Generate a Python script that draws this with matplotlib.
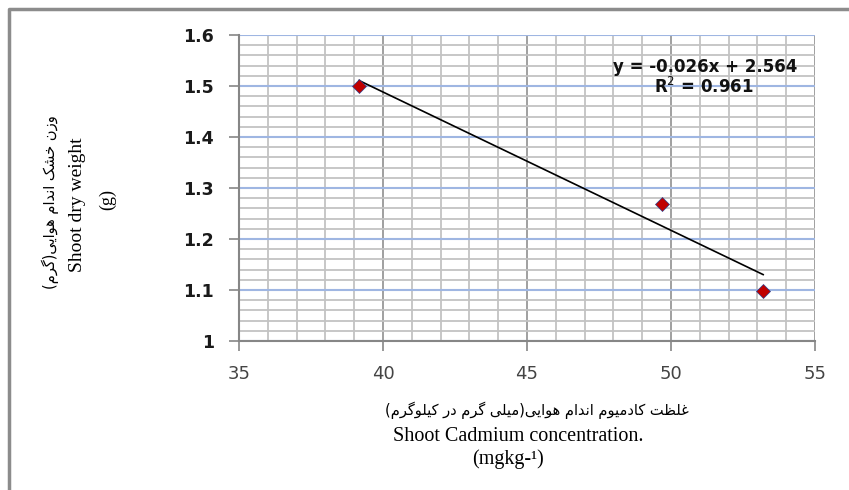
import matplotlib
matplotlib.use("Agg")
import matplotlib.pyplot as plt
import numpy as np
from matplotlib.ticker import MultipleLocator
from matplotlib.lines import Line2D

# Data
cadmium = [39.17, 49.7, 53.2]        # shoot Cd concentration (mg/kg)
dry_weight = [1.50, 1.268, 1.098]    # shoot dry weight (g)
eq_text = "y = -0.026x + 2.564"
r2_text = "R$^2$ = 0.961"
x_ticks = [35, 40, 45, 50, 55]
y_ticks = [1.0, 1.1, 1.2, 1.3, 1.4, 1.5, 1.6]
y_tick_labels = ["1", "1.1", "1.2", "1.3", "1.4", "1.5", "1.6"]

fa_ylabel = "وزن خشک اندام هوایی(گرم)"
fa_xlabel = "غلظت کادمیوم اندام هوایی(میلی گرم در کیلوگرم)"

# Simple Persian shaping (matplotlib has no complex text layout)
FORMS = {
    "ا": ("\uFE8D", "\uFE8E", None, None),
    "ت": ("\uFE95", "\uFE96", "\uFE97", "\uFE98"),
    "خ": ("\uFEA5", "\uFEA6", "\uFEA7", "\uFEA8"),
    "د": ("\uFEA9", "\uFEAA", None, None),
    "ر": ("\uFEAD", "\uFEAE", None, None),
    "ز": ("\uFEAF", "\uFEB0", None, None),
    "ش": ("\uFEB5", "\uFEB6", "\uFEB7", "\uFEB8"),
    "ظ": ("\uFEC5", "\uFEC6", "\uFEC7", "\uFEC8"),
    "غ": ("\uFECD", "\uFECE", "\uFECF", "\uFED0"),
    "ل": ("\uFEDD", "\uFEDE", "\uFEDF", "\uFEE0"),
    "م": ("\uFEE1", "\uFEE2", "\uFEE3", "\uFEE4"),
    "ن": ("\uFEE5", "\uFEE6", "\uFEE7", "\uFEE8"),
    "ه": ("\uFEE9", "\uFEEA", "\uFEEB", "\uFEEC"),
    "و": ("\uFEED", "\uFEEE", None, None),
    "ی": ("\uFBFC", "\uFBFD", "\uFBFE", "\uFBFF"),
    "ک": ("\uFB8E", "\uFB8F", "\uFB90", "\uFB91"),
    "گ": ("\uFB92", "\uFB93", "\uFB94", "\uFB95"),
}


def shape(text):
    out = []
    for i, c in enumerate(text):
        if c not in FORMS:
            out.append(c)
            continue
        prev = text[i - 1] if i > 0 else ""
        nxt = text[i + 1] if i + 1 < len(text) else ""
        joins_prev = prev in FORMS and FORMS[prev][2] is not None
        joins_next = FORMS[c][2] is not None and nxt in FORMS
        iso, fin, ini, med = FORMS[c]
        if joins_prev and joins_next:
            out.append(med)
        elif joins_prev:
            out.append(fin)
        elif joins_next:
            out.append(ini)
        else:
            out.append(iso)
    s = "".join(reversed(out))
    return s.replace("(", "\0").replace(")", "(").replace("\0", ")")


W, H = 849, 490
fig = plt.figure(figsize=(W / 100, H / 100), dpi=100)

def px(x, y):
    return x / W, 1 - y / H

ax = fig.add_axes([239 / W, 1 - 341 / H, 576 / W, 306 / H])
ax.set_xlim(35, 55)
ax.set_ylim(1.0, 1.6)

# grid
ax.xaxis.set_minor_locator(MultipleLocator(1))
ax.yaxis.set_minor_locator(MultipleLocator(0.02))
ax.grid(which="minor", axis="both", color="#c3c3c3", linewidth=1.3)
ax.grid(which="major", axis="x", color="#868686", linewidth=1.1)
ax.grid(which="major", axis="y", color="#9fb6e2", linewidth=1.5)
ax.set_axisbelow(True)
for side in ["top", "right"]:
    ax.spines[side].set_visible(False)
for side in ["left", "bottom"]:
    ax.spines[side].set_color("#868686")
    ax.spines[side].set_linewidth(1.5)
    ax.spines[side].set_zorder(2.6)

ax.set_xticks(x_ticks)
ax.set_yticks(y_ticks)
ax.set_yticklabels(y_tick_labels, fontweight="bold", fontsize=12.5, color="#1a1a1a")
ax.set_xticklabels([str(v) for v in x_ticks], fontsize=13, color="#444444")
ax.tick_params(which="major", direction="out", length=7, width=1.2, color="#868686")
ax.tick_params(which="minor", length=0)
ax.tick_params(axis="y", pad=11)
ax.tick_params(axis="x", pad=10)

# trend line
slope, intercept = np.polyfit(cadmium, dry_weight, 1)
xs = np.array([min(cadmium), max(cadmium)])
ax.plot(xs, slope * xs + intercept, color="black", linewidth=1.2, zorder=3)

ax.plot(cadmium, dry_weight, linestyle="none", marker="D", markersize=7.5,
        markerfacecolor="#c00000", markeredgecolor="#2b3f8c",
        markeredgewidth=0.5, zorder=4, clip_on=False)

fig.text(*px(705, 67), eq_text, fontsize=12, fontweight="bold",
         ha="center", va="center", color="#111111")
fig.text(*px(704, 87), r2_text, fontsize=12, fontweight="bold",
         ha="center", va="center", color="#111111")

# axis titles
fig.text(*px(50, 202), shape(fa_ylabel), fontsize=10.5, rotation=90,
         ha="center", va="center", family="DejaVu Sans")
fig.text(*px(77, 205), "Shoot dry weight", fontsize=14, rotation=90,
         ha="center", va="center", family="Liberation Serif")
fig.text(*px(108, 200), "(g)", fontsize=13, rotation=90,
         ha="center", va="center", family="Liberation Serif")

fig.text(*px(537, 410), shape(fa_xlabel), fontsize=10.5,
         ha="center", va="center", family="DejaVu Sans")
fig.text(*px(518, 436), "Shoot Cadmium concentration.", fontsize=14.5,
         ha="center", va="center", family="Liberation Serif")
fig.text(*px(508, 459), "(mgkg-¹)", fontsize=14.5,
         ha="center", va="center", family="Liberation Serif")

# outer frame (top and left edge visible)
fig.add_artist(Line2D([9 / W, 9 / W, 1], [0, 1 - 9 / H, 1 - 9 / H],
                      color="#8c8c8c", linewidth=2.5))

fig.savefig("out.png", dpi=100)
